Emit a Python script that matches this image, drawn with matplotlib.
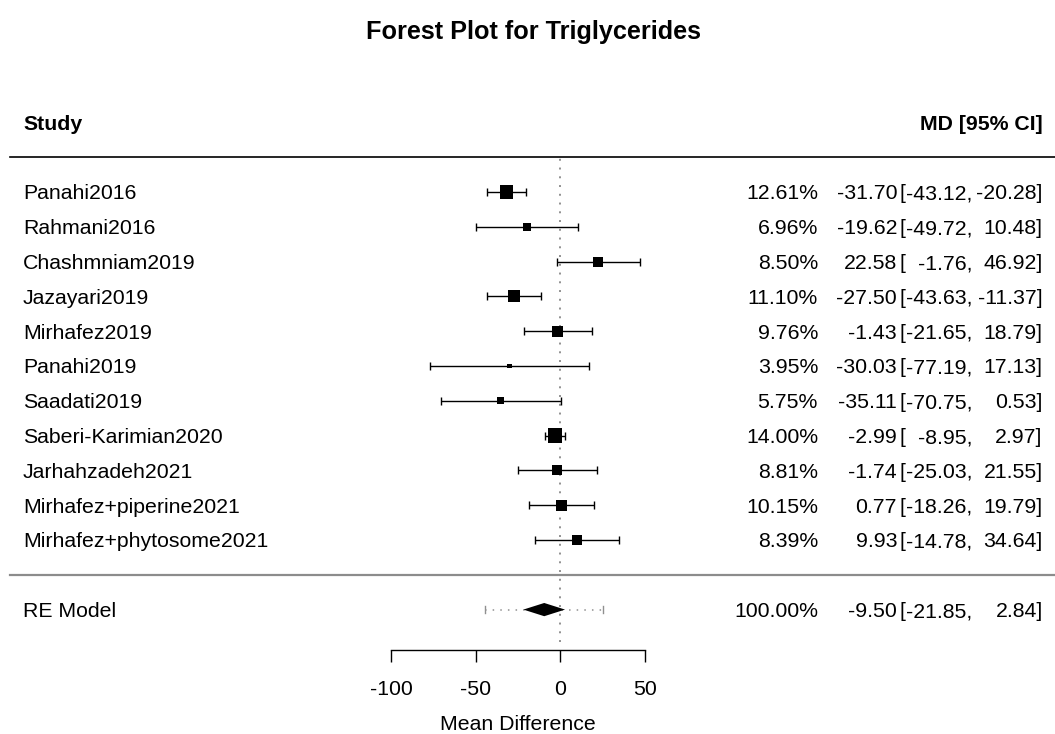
import numpy as np
import matplotlib
matplotlib.use("Agg")
import matplotlib.pyplot as plt

plt.rcParams['font.family'] = ['Liberation Sans', 'DejaVu Sans']

# study-level results (mean difference in triglycerides)
studies = ["Panahi2016", "Rahmani2016", "Chashmniam2019", "Jazayari2019",
           "Mirhafez2019", "Panahi2019", "Saadati2019", "Saberi-Karimian2020",
           "Jarhahzadeh2021", "Mirhafez+piperine2021", "Mirhafez+phytosome2021"]
md = [-31.70, -19.62, 22.58, -27.50, -1.43, -30.03, -35.11, -2.99, -1.74, 0.77, 9.93]
ci_lo = [-43.12, -49.72, -1.76, -43.63, -21.65, -77.19, -70.75, -8.95, -25.03, -18.26, -14.78]
ci_hi = [-20.28, 10.48, 46.92, -11.37, 18.79, 17.13, 0.53, 2.97, 21.55, 19.79, 34.64]
weights = [12.61, 6.96, 8.50, 11.10, 9.76, 3.95, 5.75, 14.00, 8.81, 10.15, 8.39]

# random-effects summary and prediction interval
re_est, re_lo, re_hi = -9.50, -21.85, 2.84
pi_lo, pi_hi = -44.4, 25.5

xticks = [-100, -50, 0, 50]

fs = 15.3

fig = plt.figure(figsize=(10.55, 7.34), dpi=100)
ax = fig.add_axes([0, 0, 1, 1])
ax.set_xlim(-331.7, 292.9)
ax.set_ylim(-4.575, 16.517)

k = len(studies)
rows = np.arange(k, 0, -1)
y_re = -1
y_axis = -2.161

# text columns
x_lab = -318.1
x_wt = 152.6
x_est = 199.4
x_brk = 201.0
x_lo = 244.1
x_hi = 285.6
x_line = -325.8

md_a = np.array(md)
lo_a = np.array(ci_lo)
hi_a = np.array(ci_hi)

# square size ~ sqrt of weights, rescaled to 0.5..1.5
sw = np.sqrt(np.array(weights))
psize = (sw - sw.min()) / (sw.max() - sw.min()) + 0.5
side_pt = 6.9 * psize

# reference line
ax.plot([0, 0], [y_axis + 0.23, k + 1], color='#909090', lw=1.4,
        ls=(0, (1, 3.5)), zorder=1)

ax.errorbar(md_a, rows, xerr=[md_a - lo_a, hi_a - md_a], fmt='none',
            ecolor='black', elinewidth=1.0, capsize=2.9, capthick=1.0, zorder=2)
ax.scatter(md_a, rows, s=side_pt ** 2, marker='s', color='black',
           linewidths=0, zorder=3)

# prediction interval + summary diamond
ax.plot([pi_lo, pi_hi], [y_re, y_re], color='#909090', lw=1.1,
        ls=(0, (1, 4)), zorder=2)
for xp in (pi_lo, pi_hi):
    ax.plot([xp, xp], [y_re - 0.1, y_re + 0.1], color='#909090', lw=1.0, zorder=2)
dh = 0.19
ax.fill([re_lo, re_est, re_hi, re_est], [y_re, y_re + dh, y_re, y_re - dh],
        color='black', lw=0, zorder=3)

# horizontal rules
ax.plot([x_line, 292.9], [k + 1, k + 1], color='black', lw=1.2)
ax.plot([x_line, 292.9], [0, 0], color='#8c8c8c', lw=1.6)

# left labels and right annotations
def annotate(y, name, w, est, lo, hi):
    ax.text(x_lab, y, name, fontsize=fs, va='center_baseline', ha='left')
    ax.text(x_wt, y, f"{w:.2f}%", fontsize=fs, va='center_baseline', ha='right')
    ax.text(x_est, y, f"{est:.2f}", fontsize=fs, va='center_baseline', ha='right')
    ax.text(x_brk, y, "[", fontsize=fs, va='center_baseline', ha='left')
    ax.text(x_lo, y, f"{lo:.2f},", fontsize=fs, va='center_baseline', ha='right')
    ax.text(x_hi, y, f"{hi:.2f}]", fontsize=fs, va='center_baseline', ha='right')

for i in range(k):
    annotate(rows[i], studies[i], weights[i], md[i], ci_lo[i], ci_hi[i])
annotate(y_re, "RE Model", 100.0, re_est, re_lo, re_hi)

ax.text(x_lab, k + 2, "Study", fontsize=fs, fontweight='bold',
        va='center_baseline', ha='left')
ax.text(x_hi, k + 2, "MD [95% CI]", fontsize=fs, fontweight='bold',
        va='center_baseline', ha='right')
ax.text(-16.0, 15.655, "Forest Plot for Triglycerides", fontsize=18.2,
        fontweight='bold', va='center_baseline', ha='center')

# x axis
for s in ['top', 'right', 'left']:
    ax.spines[s].set_visible(False)
ax.spines['bottom'].set_position(('data', y_axis))
ax.spines['bottom'].set_bounds(-100, 50)
ax.spines['bottom'].set_linewidth(1.0)
ax.set_xticks(xticks)
ax.set_xticklabels([str(t) for t in xticks])
ax.set_yticks([])
ax.tick_params(axis='x', direction='out', length=8.6, width=1.0, pad=13,
               labelsize=fs)
ax.set_xlabel("Mean Difference", fontsize=fs, va='center_baseline')
ax.xaxis.set_label_coords(-25, -4.24, transform=ax.transData)

fig.savefig("out.png", dpi=100)
